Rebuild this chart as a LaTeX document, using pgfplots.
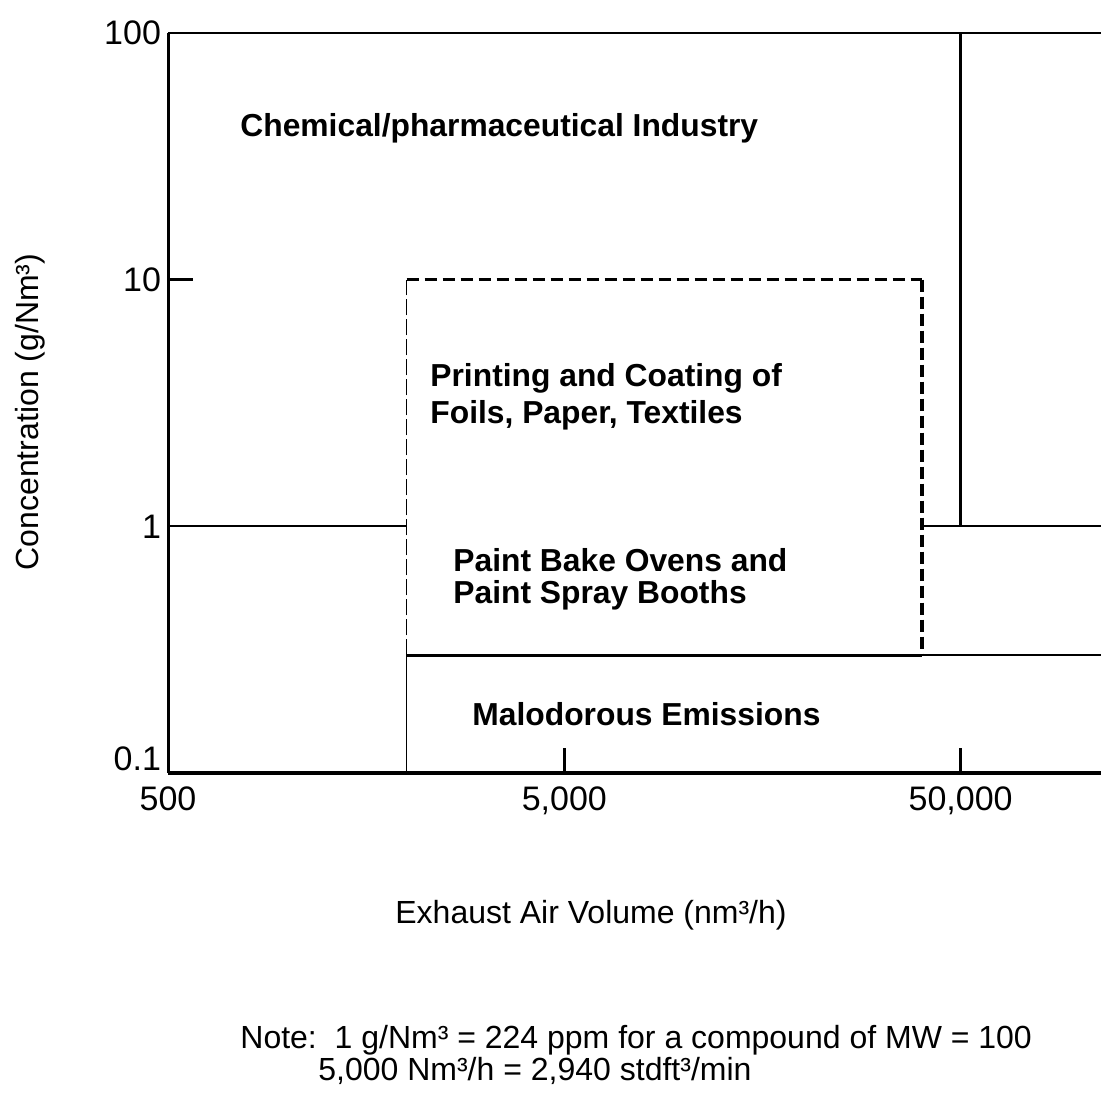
\documentclass[border=0pt]{standalone}
\usepackage{pgfplots}
\pgfplotsset{compat=1.18}
\usepackage{fontspec}
\setmainfont{Liberation Sans}
\begin{document}
\begin{tikzpicture}
\useasboundingbox (0,0) rectangle (550.5pt,-557pt);
\begin{axis}[
  at={(84pt,-386.5pt)}, anchor=south west,
  scale only axis, width=466.5pt, height=370pt,
  xmode=log, ymode=log,
  xmin=500, xmax=113000, ymin=0.1, ymax=100,
  axis lines=left,
  x axis line style={-, line width=2pt},
  y axis line style={-, line width=1.5pt},
  clip=false,
  xtick={5000,50000}, xticklabels={{5,000},{50,000}},
  extra x ticks={500}, extra x tick labels={500},
  ytick={10}, yticklabels={10},
  extra y ticks={0.1,1,100}, extra y tick labels={\raisebox{14pt}{0.1},1,100},
  extra x tick style={major tick length=0pt},
  extra y tick style={major tick length=0pt},
  tick align=inside, major tick length=12.5pt,
  tick style={line width=1.5pt, black},
  xminorticks=false, yminorticks=false,
  tick label style={font=\fontsize{17}{19}\selectfont},
  xticklabel style={yshift=-3.5pt},
]
\addplot[black, line width=1pt] coordinates {(500,100) (200000,100)};
\addplot[black, line width=1pt] coordinates {(500,1) (2000,1)};
\addplot[black, line width=1pt] coordinates {(40000,1) (200000,1)};
\addplot[black, line width=1.2pt] coordinates {(50000,1) (50000,100)};
\addplot[black, line width=1pt] coordinates {(2000,0.3) (200000,0.3)};
\addplot[black, line width=0.6pt] coordinates {(2000,0.1) (2000,0.3)};
\addplot[black, line width=1.6pt] coordinates {(2000,0.3) (40000,0.3)};
\addplot[black, line width=0.6pt, dash pattern=on 8pt off 2pt] coordinates {(2000,0.3) (2000,10)};
\addplot[black, line width=1.6pt, dash pattern=on 6pt off 3pt] coordinates {(2000,10) (40000,10)};
\addplot[black, line width=2pt, dash pattern=on 6pt off 2.5pt] coordinates {(40000,10) (40000,0.3)};
\end{axis}
\begin{scope}[x=0.5pt,y=-0.5pt]
\tikzset{every node/.style={inner sep=0pt}}
\def\bl{\bfseries\fontsize{15.9}{18}\selectfont}
\def\rg{\fontsize{16}{18}\selectfont}
\node[anchor=west, font=\bl] at (240,128) {Chemical/pharmaceutical Industry};
\node[anchor=west, font=\bl] at (430,378) {Printing and Coating of};
\node[anchor=west, font=\bl] at (430,415) {Foils, Paper, Textiles};
\node[anchor=west, font=\bl] at (453,560) {Paint Bake Ovens and};
\node[anchor=west, font=\bl] at (453,595) {Paint Spray Booths};
\node[anchor=west, font=\bl] at (472,714) {Malodorous Emissions};
\node[rotate=90, font=\rg] at (30,412) {Concentration (g/Nm³)};
\node[font=\rg] at (591,915) {Exhaust Air Volume (nm³/h)};
\node[anchor=west, font=\rg] at (240,1040) {Note:\ \ 1 g/Nm³ = 224 ppm for a compound of MW = 100};
\node[anchor=west, font=\rg] at (318,1071) {5,000 Nm³/h = 2,940 stdft³/min};
\end{scope}
\end{tikzpicture}
\end{document}
